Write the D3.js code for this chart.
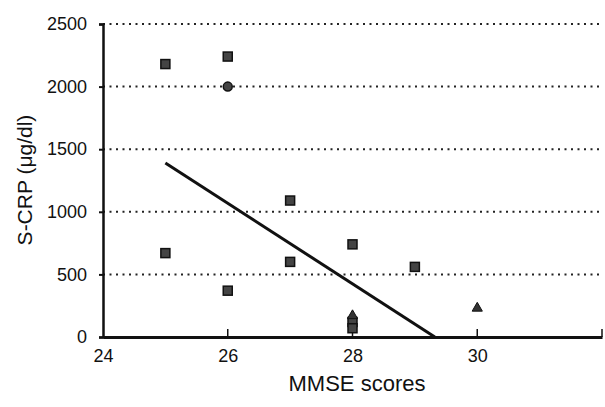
<!DOCTYPE html>
<html>
<head>
<meta charset="utf-8">
<script src="https://cdn.jsdelivr.net/npm/d3@7"></script>
<style>
  body { margin: 0; background: #fff; }
  text { font-family: "Liberation Sans", Arial, sans-serif; fill: #111; }
</style>
</head>
<body>
<div id="chart"></div>
<script>
var w = 605,
	h = 407;

//Data
var squareX = [25, 26, 25, 26, 27, 27, 28, 29, 28, 28];
var squareY = [2180, 2240, 670, 370, 1090, 600, 740, 560, 120, 70];
var circleX = [26];
var circleY = [2000];
var triangleX = [28, 30];
var triangleY = [170, 230];
//Regression line end points
var lineX = [25, 29.32];
var lineY = [1390, 0];

var xTicks = [24, 26, 28, 30];
var yTicks = [0, 500, 1000, 1500, 2000, 2500];

var x = d3.scaleLinear().domain([24, 32]).range([103, 602]);
var y = d3.scaleLinear().domain([0, 2500]).range([337, 24]);

var svg = d3.select('#chart')
	.append('svg')
	.attr("width", w)
	.attr("height", h);

//Dotted grid lines
svg.selectAll('.grid')
	.data(yTicks.filter(function(d){ return d > 0; }))
	.enter()
	.append("line")
	.attr("class", "grid")
	.attr("x1", x(24))
	.attr("x2", 600)
	.attr("y1", function(d){ return y(d); })
	.attr("y2", function(d){ return y(d); })
	.attr("stroke", "#222")
	.attr("stroke-width", 2)
	.attr("stroke-dasharray", "2,4.5");

//Y axis
var yAxis = d3.axisLeft(y).tickValues(yTicks).tickFormat(d3.format("d"))
	.tickSize(4).tickPadding(12);
var gy = svg.append("g")
	.attr("transform", "translate(" + x(24) + ",0)")
	.call(yAxis);
gy.select(".domain").attr("stroke-width", 2.5).attr("stroke", "#111");
gy.selectAll(".tick line").attr("stroke-width", 2).attr("stroke", "#111");
gy.selectAll("text").attr("font-size", "18px").attr("fill", "#111");

//X axis, ticks point up into the plot
var xAxis = d3.axisBottom(x).tickValues(xTicks).tickSize(0).tickPadding(12)
	.tickSizeOuter(0);
var gx = svg.append("g")
	.attr("transform", "translate(0," + y(0) + ")")
	.call(xAxis);
gx.select(".domain").attr("stroke-width", 3).attr("stroke", "#111");
gx.selectAll("text").attr("font-size", "18px").attr("fill", "#111");

svg.selectAll('.xtick')
	.data(xTicks.slice(1).concat([32]))
	.enter()
	.append("line")
	.attr("class", "xtick")
	.attr("x1", function(d){ return x(d); })
	.attr("x2", function(d){ return x(d); })
	.attr("y1", y(0))
	.attr("y2", y(0) - 8)
	.attr("stroke", "#111")
	.attr("stroke-width", 1.5);

//Axis titles
svg.append("text")
	.attr("x", 357)
	.attr("y", 391)
	.attr("text-anchor", "middle")
	.attr("font-size", "22px")
	.text("MMSE scores");

svg.append("text")
	.attr("transform", "translate(32,180) rotate(-90)")
	.attr("text-anchor", "middle")
	.attr("font-size", "21px")
	.text("S-CRP (\u03bcg/dl)");

//Regression line
svg.append("line")
	.attr("x1", x(lineX[0]))
	.attr("y1", y(lineY[0]))
	.attr("x2", x(lineX[1]))
	.attr("y2", y(lineY[1]))
	.attr("stroke", "#111")
	.attr("stroke-width", 3);

//Squares
svg.selectAll('.sq')
	.data(squareX)
	.enter()
	.append("rect")
	.attr("class", "sq")
	.attr("x", function(d){ return x(d) - 4.5; })
	.attr("y", function(d, i){ return y(squareY[i]) - 4.5; })
	.attr("width", 9)
	.attr("height", 9)
	.attr("fill", "#444")
	.attr("stroke", "#111")
	.attr("stroke-width", 1.5);

//Circles
svg.selectAll('.ci')
	.data(circleX)
	.enter()
	.append("circle")
	.attr("class", "ci")
	.attr("cx", function(d){ return x(d); })
	.attr("cy", function(d, i){ return y(circleY[i]); })
	.attr("r", 4.5)
	.attr("fill", "#444")
	.attr("stroke", "#111")
	.attr("stroke-width", 1.5);

//Triangles
svg.selectAll('.tr')
	.data(triangleX)
	.enter()
	.append("path")
	.attr("class", "tr")
	.attr("transform", function(d, i){ return "translate(" + x(d) + "," + y(triangleY[i]) + ")"; })
	.attr("d", d3.symbol().type(d3.symbolTriangle).size(45))
	.attr("fill", "#333")
	.attr("stroke", "#111")
	.attr("stroke-width", 1);
</script>
</body>
</html>
